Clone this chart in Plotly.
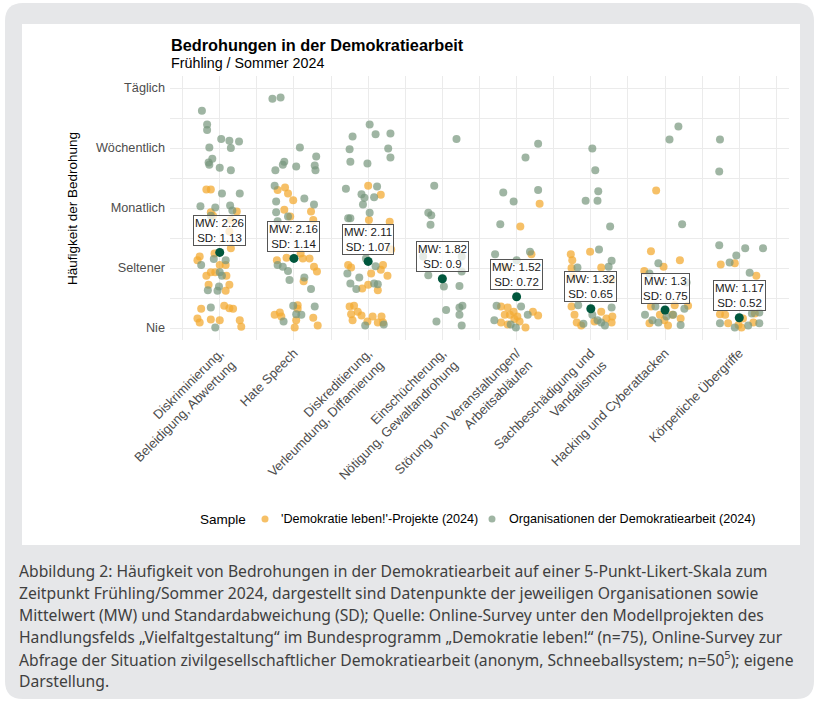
import plotly.graph_objects as go

# --- data -------------------------------------------------------------------
categories = [
    "Diskriminierung,<br>Beleidigung, Abwertung",
    "Hate Speech",
    "Diskreditierung,<br>Verleumdung, Diffamierung",
    "Einschüchterung,<br>Nötigung, Gewaltandrohung",
    "Störung von Veranstaltungen/<br>Arbeitsabläufen",
    "Sachbeschädigung und<br>Vandalismus",
    "Hacking und Cyberattacken",
    "Körperliche Übergriffe",
]
levels = ["Nie", "Seltener", "Monatlich", "Wöchentlich", "Täglich"]
level_values = [1, 2, 3, 4, 5]

mean_values = [2.26, 2.16, 2.11, 1.82, 1.52, 1.32, 1.30, 1.17]
sd_values = [1.13, 1.14, 1.07, 0.90, 0.72, 0.65, 0.75, 0.52]

# jittered responses per category: (horizontal jitter, jittered answer value)
# 'Demokratie leben!'-Projekte (2024)
dl_points = [
    [(-0.18, 3.31), (-0.12, 3.31), (-0.12, 2.93), (-0.09, 2.87), (0.23, 2.94), (0.15, 2.80),
     (0.13, 2.61), (0.15, 2.33), (-0.07, 2.24), (-0.27, 2.19), (-0.30, 2.13), (0.00, 2.05),
     (0.08, 2.05), (-0.12, 1.93), (-0.06, 1.93), (-0.18, 1.87), (0.09, 1.87), (-0.15, 1.72),
     (0.13, 1.72), (0.08, 1.62), (-0.25, 1.32), (0.06, 1.37), (0.13, 1.33), (0.18, 1.32),
     (-0.30, 1.16), (-0.27, 1.09), (-0.12, 1.14), (0.00, 1.13), (0.27, 1.13), (0.29, 1.02)],
    [(-0.12, 3.34), (-0.22, 3.30), (-0.08, 3.24), (-0.01, 3.13), (-0.13, 2.97), (0.23, 2.94),
     (0.26, 2.80), (-0.05, 2.86), (-0.23, 2.13), (-0.10, 2.17), (0.09, 2.24), (0.12, 2.16),
     (0.21, 2.16), (0.27, 2.02), (0.31, 1.94), (0.13, 1.78), (-0.26, 1.22), (-0.19, 1.26),
     (-0.17, 1.19), (0.05, 1.38), (0.05, 1.32), (0.03, 1.13), (0.01, 1.01), (0.26, 1.17),
     (0.32, 1.04)],
    [(0.00, 3.37), (0.17, 3.22), (0.01, 2.80), (0.29, 2.77), (0.31, 2.31), (-0.27, 2.05),
     (-0.23, 2.01), (0.20, 2.05), (0.17, 1.97), (0.04, 1.91), (0.26, 1.87), (-0.08, 1.66),
     (0.00, 1.72), (0.13, 1.63), (-0.25, 1.36), (-0.19, 1.37), (-0.23, 1.23), (-0.14, 1.27),
     (-0.21, 1.13), (-0.09, 1.21), (0.06, 1.19), (0.18, 1.19), (-0.01, 1.11), (0.13, 1.09),
     (0.20, 1.09)],
    [],
    [(0.31, 3.07), (0.05, 2.69), (0.20, 2.23), (-0.16, 2.01), (-0.21, 1.36), (-0.12, 1.34),
     (-0.16, 1.22), (-0.09, 1.22), (-0.04, 1.27), (0.01, 1.19), (-0.21, 1.09), (-0.12, 1.06),
     (0.04, 1.11), (0.12, 1.01), (0.22, 1.27), (0.29, 1.21), (-0.03, 1.15)],
    [(-0.01, 2.27), (-0.27, 2.23), (-0.25, 2.13), (0.14, 2.01), (-0.26, 2.00), (-0.24, 1.86),
     (0.28, 1.80), (-0.26, 1.36), (-0.22, 1.22), (-0.19, 1.09), (-0.13, 1.04), (0.05, 1.11),
     (0.14, 1.27), (0.21, 1.16), (0.28, 1.09), (0.29, 1.19)],
    [(-0.12, 3.29), (-0.19, 2.28), (0.20, 2.13), (-0.02, 2.02), (-0.28, 1.95), (-0.19, 1.36),
     (0.13, 1.38), (0.31, 1.37), (-0.21, 1.08), (-0.01, 1.13), (0.04, 1.04), (0.10, 1.22),
     (-0.07, 1.22), (0.21, 1.16)],
    [(-0.25, 2.06), (-0.06, 2.08), (0.23, 1.87), (-0.26, 1.23), (-0.19, 1.22), (-0.15, 1.08),
     (-0.01, 1.05), (0.03, 1.01), (0.05, 1.16), (0.19, 1.09), (0.21, 1.24)],
]

# Organisationen der Demokratiearbeit (2024)
org_points = [
    [(-0.24, 4.62), (-0.17, 4.39), (-0.17, 4.30), (0.02, 4.15), (0.13, 4.12), (0.26, 4.11),
     (0.15, 4.00), (-0.14, 4.01), (-0.10, 3.82), (-0.15, 3.76), (-0.14, 3.72), (0.00, 3.67),
     (0.15, 3.63), (0.03, 3.24), (0.27, 3.24), (-0.26, 3.03), (-0.06, 3.01), (0.14, 3.04),
     (0.17, 2.96), (-0.12, 2.87), (-0.25, 2.05), (-0.08, 2.15), (0.08, 2.13), (0.00, 1.93),
     (0.03, 1.87), (-0.16, 1.63), (-0.01, 1.69), (-0.03, 1.62), (-0.12, 1.34), (-0.06, 1.01)],
    [(-0.29, 4.82), (-0.18, 4.84), (0.08, 4.01), (0.30, 3.86), (-0.13, 3.77), (-0.15, 3.72),
     (-0.25, 3.63), (0.03, 3.69), (0.28, 3.71), (0.29, 3.63), (-0.26, 3.37), (0.14, 3.16),
     (-0.24, 3.11), (0.27, 3.06), (-0.24, 2.93), (-0.08, 2.86), (-0.22, 2.78), (-0.22, 2.05),
     (-0.15, 2.02), (-0.08, 1.95), (-0.06, 1.80), (0.14, 1.84), (0.23, 1.65), (-0.01, 1.37),
     (0.03, 1.23), (0.10, 1.22), (-0.14, 1.11), (0.28, 1.36)],
    [(0.02, 4.39), (-0.21, 4.19), (0.10, 4.23), (0.30, 4.24), (-0.25, 3.98), (0.27, 3.99),
     (-0.24, 3.77), (-0.01, 3.74), (0.30, 3.84), (-0.30, 3.32), (0.12, 3.36), (-0.09, 3.23),
     (-0.05, 3.17), (0.08, 3.18), (-0.07, 3.06), (0.02, 2.92), (-0.27, 2.83), (-0.24, 2.83),
     (-0.03, 2.16), (0.10, 2.03), (-0.28, 1.91), (-0.12, 1.84), (-0.24, 1.74), (0.08, 1.74),
     (0.13, 1.73), (-0.16, 1.65), (0.21, 1.06), (-0.04, 1.04)],
    [(0.19, 4.15), (-0.11, 3.37), (-0.19, 2.92), (-0.15, 2.88), (-0.16, 2.72), (-0.26, 2.19),
     (0.26, 2.19), (-0.19, 1.88), (0.26, 1.94), (0.02, 1.69), (0.23, 1.70), (0.27, 1.37),
     (0.23, 1.34), (0.05, 1.30), (0.23, 1.22), (-0.08, 1.11), (0.26, 1.04)],
    [(0.29, 4.07), (0.12, 3.84), (-0.18, 3.26), (0.29, 3.30), (-0.04, 3.11), (-0.22, 2.73),
     (-0.29, 2.23), (0.00, 2.13), (0.18, 2.27), (-0.27, 1.37), (0.06, 1.36), (-0.30, 1.13),
     (-0.08, 1.06), (-0.01, 1.01), (0.15, 1.22)],
    [(0.02, 3.99), (0.06, 3.63), (0.10, 3.28), (-0.07, 3.12), (0.09, 3.12), (0.26, 2.69),
     (0.11, 2.31), (0.28, 2.12), (-0.18, 2.01), (0.24, 2.02), (-0.17, 1.38), (0.02, 1.22),
     (0.28, 1.34), (0.09, 1.13), (0.14, 1.09), (0.19, 1.04), (-0.10, 1.07)],
    [(0.18, 4.36), (0.06, 4.14), (0.23, 2.73), (-0.09, 2.08), (-0.21, 1.91), (0.29, 1.76),
     (-0.13, 1.36), (-0.27, 1.22), (-0.17, 1.13), (-0.09, 1.09), (0.02, 1.19), (0.11, 1.22),
     (0.21, 1.05), (0.26, 1.32)],
    [(-0.26, 4.14), (-0.27, 3.61), (-0.27, 2.38), (0.08, 2.33), (0.32, 2.33), (-0.04, 2.21),
     (-0.13, 2.09), (0.14, 1.92), (0.27, 1.26), (-0.26, 1.08), (-0.06, 1.01), (0.12, 1.04),
     (0.27, 1.08), (0.17, 1.24)],
]

sample_names = ["'Demokratie leben!'-Projekte (2024)", "Organisationen der Demokratiearbeit (2024)"]

caption_lines = [
    "Abbildung 2: Häufigkeit von Bedrohungen in der Demokratiearbeit auf einer 5-Punkt-Likert-Skala zum",
    "Zeitpunkt Frühling/Sommer 2024, dargestellt sind Datenpunkte der jeweiligen Organisationen sowie",
    "Mittelwert (MW) und Standardabweichung (SD); Quelle: Online-Survey unter den Modellprojekten des",
    "Handlungsfelds „Vielfaltgestaltung“ im Bundesprogramm „Demokratie leben!“ (n=75), Online-Survey zur",
    "Abfrage der Situation zivilgesellschaftlicher Demokratiearbeit (anonym, Schneeballsystem; "
    "n=50<sup>5</sup>); eigene",
    "Darstellung.",
]

# --- styling ----------------------------------------------------------------
W, H = 816, 702
ML, MR, MT, MB = 170, 27, 76, 362
PW, PH = W - ML - MR, H - MT - MB

ORANGE = "rgba(243,170,50,0.74)"
GREEN = "rgba(118,150,124,0.7)"
MEAN_GREEN = "#00573d"
TICK_GREY = "#4d4d4d"
GRID = "#ebebeb"
FRAME_GREY = "#e6e7e9"
CAPTION_GREY = "#3f3f3f"
ARIAL = "Liberation Sans, Arial, sans-serif"
CAPTION_FONT = "Noto Sans, sans-serif"


def fx(px):
    """page pixel x -> paper coordinate"""
    return (px - ML) / PW


def fy(py):
    """page pixel y -> paper coordinate"""
    return (H - MB - py) / PH


def flatten(points_by_cat):
    xs, ys = [], []
    for i, pts in enumerate(points_by_cat):
        for dx, y in pts:
            xs.append(i + 1 + dx)
            ys.append(y)
    return xs, ys


fig = go.Figure()

for pts, color in ((dl_points, ORANGE), (org_points, GREEN)):
    xs, ys = flatten(pts)
    fig.add_trace(go.Scatter(
        x=xs, y=ys, mode="markers", showlegend=False,
        marker=dict(size=8, color=color, line=dict(width=0)),
        hoverinfo="skip",
    ))

cat_pos = list(range(1, len(categories) + 1))
fig.add_trace(go.Scatter(
    x=cat_pos, y=mean_values, mode="markers", showlegend=False,
    marker=dict(size=9, color=MEAN_GREEN, line=dict(width=0)),
))

annotations = []
for xc, m, s in zip(cat_pos, mean_values, sd_values):
    annotations.append(dict(
        x=xc, y=m, xref="x", yref="y", yshift=22, showarrow=False,
        text=f"MW: {m:g}<br>SD: {s:g}",
        font=dict(family=ARIAL, size=11.5, color="#1a1a1a"),
        bgcolor="rgba(255,255,255,0.72)", bordercolor="#555555",
        borderwidth=1, borderpad=1,
    ))

# title and subtitle
annotations.append(dict(
    x=fx(169), y=fy(45), xref="paper", yref="paper", xanchor="left", yanchor="middle",
    showarrow=False, text="<b>Bedrohungen in der Demokratiearbeit</b>",
    font=dict(family=ARIAL, size=16.3, color="#000000"),
))
annotations.append(dict(
    x=fx(169), y=fy(63), xref="paper", yref="paper", xanchor="left", yanchor="middle",
    showarrow=False, text="Frühling / Sommer 2024",
    font=dict(family=ARIAL, size=14.3, color="#000000"),
))

# y axis title
annotations.append(dict(
    x=fx(72), y=fy(208), xref="paper", yref="paper", xanchor="center", yanchor="middle",
    showarrow=False, text="Häufigkeit der Bedrohung", textangle=-90,
    font=dict(family=ARIAL, size=13.5, color="#000000"),
))

# legend
annotations.append(dict(
    x=fx(248), y=fy(519), xref="paper", yref="paper", xanchor="right", yanchor="middle",
    showarrow=False, text="Sample", font=dict(family=ARIAL, size=13.5, color="#000000"),
))
legend_items = [(265, 279, ORANGE, sample_names[0]), (492, 507, GREEN, sample_names[1])]
shapes = []
for dot_x, text_x, color, name in legend_items:
    annotations.append(dict(
        x=fx(text_x), y=fy(519), xref="paper", yref="paper", xanchor="left", yanchor="middle",
        showarrow=False, text=name, font=dict(family=ARIAL, size=12.6, color="#000000"),
    ))
    shapes.append(dict(
        type="circle", xref="paper", yref="paper",
        x0=fx(dot_x - 3.5), x1=fx(dot_x + 3.5), y0=fy(519 + 3.5), y1=fy(519 - 3.5),
        fillcolor=color, line=dict(width=0), layer="above",
    ))

# caption
for k, line in enumerate(caption_lines):
    annotations.append(dict(
        x=fx(17), y=fy(571 + 22 * k), xref="paper", yref="paper",
        xanchor="left", yanchor="middle", showarrow=False, text=line,
        font=dict(family=CAPTION_FONT, size=15.7, color=CAPTION_GREY),
    ))


def rounded_rect(x0, y0, x1, y1, r):
    # corner rounding done in pixel space, converted to paper coords
    pts = [
        f"M {fx(x0 + r)},{fy(y0)}",
        f"L {fx(x1 - r)},{fy(y0)}",
        f"Q {fx(x1)},{fy(y0)} {fx(x1)},{fy(y0 + r)}",
        f"L {fx(x1)},{fy(y1 - r)}",
        f"Q {fx(x1)},{fy(y1)} {fx(x1 - r)},{fy(y1)}",
        f"L {fx(x0 + r)},{fy(y1)}",
        f"Q {fx(x0)},{fy(y1)} {fx(x0)},{fy(y1 - r)}",
        f"L {fx(x0)},{fy(y0 + r)}",
        f"Q {fx(x0)},{fy(y0)} {fx(x0 + r)},{fy(y0)}",
        "Z",
    ]
    return " ".join(pts)


shapes = [
    dict(type="path", xref="paper", yref="paper", path=rounded_rect(5, 3, 814, 699, 18),
         fillcolor=FRAME_GREY, line=dict(width=0), layer="below"),
    dict(type="rect", xref="paper", yref="paper", x0=fx(22), x1=fx(800), y0=fy(545), y1=fy(24),
         fillcolor="#ffffff", line=dict(width=0), layer="below"),
] + shapes

fig.update_layout(
    width=W, height=H,
    margin=dict(l=ML, r=MR, t=MT, b=MB, pad=0),
    paper_bgcolor="#ffffff", plot_bgcolor="rgba(0,0,0,0)",
    showlegend=False,
    annotations=annotations, shapes=shapes,
    xaxis=dict(
        range=[0.33, 8.67], tickmode="array", tickvals=cat_pos, ticktext=categories,
        tickangle=-45, tickfont=dict(family=ARIAL, size=13, color=TICK_GREY),
        showgrid=True, gridcolor=GRID, gridwidth=1, zeroline=False, showline=False,
        ticks="", ticklabelstandoff=2, fixedrange=True,
        minor=dict(tickvals=[c + 0.5 for c in range(0, len(categories) + 1)],
                   showgrid=True, gridcolor=GRID, gridwidth=0.7),
    ),
    yaxis=dict(
        range=[0.8, 5.2], tickmode="array", tickvals=level_values, ticktext=levels,
        tickfont=dict(family=ARIAL, size=12.7, color=TICK_GREY),
        showgrid=True, gridcolor=GRID, gridwidth=1, zeroline=False, showline=False,
        ticks="", ticklabelstandoff=4, fixedrange=True,
        minor=dict(tickvals=[1.5, 2.5, 3.5, 4.5], showgrid=True, gridcolor=GRID, gridwidth=0.7),
    ),
)

fig.write_html("out.html")
